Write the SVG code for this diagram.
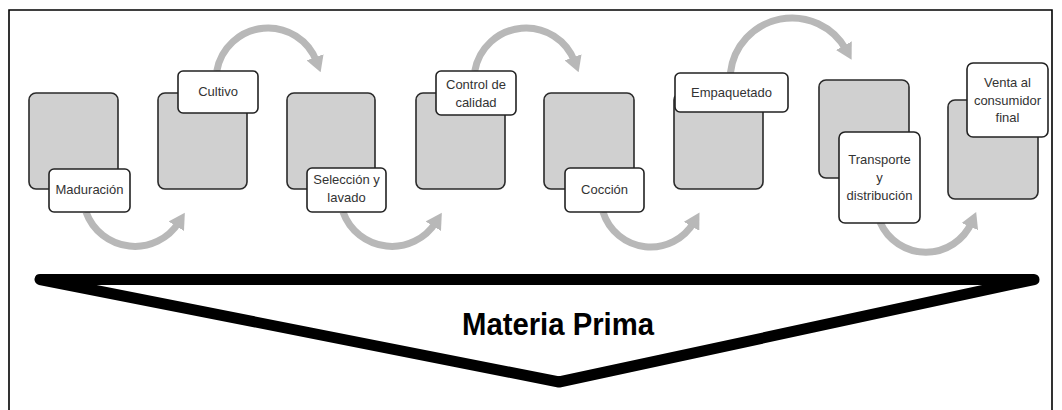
<svg xmlns="http://www.w3.org/2000/svg" width="1062" height="410" viewBox="0 0 1062 410">
<style>
.frame{fill:none;stroke:#000;stroke-width:1.6}
.step{fill:#d0d0d0;stroke:#2a2a2a;stroke-width:1.6}
.lbl{fill:#fff;stroke:#222;stroke-width:1.6}
.t{font-family:"Liberation Sans",Arial,sans-serif;font-size:13px;fill:#333;text-anchor:middle}
.arc{fill:none;stroke:#b8b8b8;stroke-width:7}
.tri{fill:none;stroke:#000;stroke-width:11;stroke-linejoin:round}
.title{font-family:"Liberation Sans",Arial,sans-serif;font-size:32px;font-weight:bold;fill:#000;text-anchor:middle}
</style>
<defs>
<marker id="ah" markerUnits="userSpaceOnUse" viewBox="0 0 16 18" markerWidth="16" markerHeight="18" refX="5" refY="9" orient="auto">
<path d="M0,0 L16,9 L0,18 z" fill="#b8b8b8"/>
</marker>
</defs>
<rect width="1062" height="410" fill="#fff"/>
<path class="frame" d="M9 420 V10 H1052 V420"/>
<g id="connectors">
<path class="arc" marker-end="url(#ah)" d="M86 212 A52 52 0 0 0 179 222"/>
<path class="arc" marker-end="url(#ah)" d="M216.8 71 A52 52 0 0 1 316.8 62"/>
<path class="arc" marker-end="url(#ah)" d="M343 212 A52 52 0 0 0 436 222"/>
<path class="arc" marker-end="url(#ah)" d="M474.8 71 A52 52 0 0 1 574.8 62"/>
<path class="arc" marker-end="url(#ah)" d="M603 212 A50 50 0 0 0 694 222"/>
<path class="arc" marker-end="url(#ah)" d="M730.4 73 A62 62 0 0 1 846.3 50"/>
<path class="arc" marker-end="url(#ah)" d="M880 222 A50 50 0 0 0 971.8 222"/>
</g>
<g id="n1">
<rect class="step" x="29" y="93" width="89" height="96" rx="7"/>
<rect class="lbl" x="49" y="169" width="81" height="43" rx="5"/>
<text class="t" x="89.5" y="194">Maduración</text>
</g>
<g id="n2">
<rect class="step" x="158" y="93" width="89" height="96" rx="7"/>
<rect class="lbl" x="178" y="71" width="80" height="42" rx="5"/>
<text class="t" x="218" y="96">Cultivo</text>
</g>
<g id="n3">
<rect class="step" x="287" y="93" width="88" height="96" rx="7"/>
<rect class="lbl" x="307" y="168" width="79" height="44" rx="5"/>
<text class="t" x="346.5" y="184">Selección y</text>
<text class="t" x="346.5" y="202">lavado</text>
</g>
<g id="n4">
<rect class="step" x="416" y="93" width="89" height="96" rx="7"/>
<rect class="lbl" x="436" y="71" width="80" height="44" rx="5"/>
<text class="t" x="476" y="89">Control de</text>
<text class="t" x="476" y="107">calidad</text>
</g>
<g id="n5">
<rect class="step" x="544" y="93" width="90" height="96" rx="7"/>
<rect class="lbl" x="565" y="168" width="79" height="44" rx="5"/>
<text class="t" x="604.5" y="194">Cocción</text>
</g>
<g id="n6">
<rect class="step" x="674" y="93" width="89" height="96" rx="7"/>
<rect class="lbl" x="675" y="73" width="113" height="39" rx="5"/>
<text class="t" x="731.5" y="97">Empaquetado</text>
</g>
<g id="n7">
<rect class="step" x="819" y="80" width="90" height="98" rx="7"/>
<rect class="lbl" x="839" y="132" width="81" height="91" rx="6"/>
<text class="t" x="879.5" y="164">Transporte</text>
<text class="t" x="879.5" y="182">y</text>
<text class="t" x="879.5" y="200">distribución</text>
</g>
<g id="n8">
<rect class="step" x="948" y="100" width="90" height="99" rx="7"/>
<rect class="lbl" x="967" y="63" width="81" height="74" rx="6"/>
<text class="t" x="1007.5" y="87">Venta al</text>
<text class="t" x="1007.5" y="105">consumidor</text>
<text class="t" x="1007.5" y="122">final</text>
</g>
<g id="materia-prima">
<polygon class="tri" points="40,279.5 1034,279.5 559,382"/>
<text class="title" x="558" y="335" textLength="192" lengthAdjust="spacingAndGlyphs">Materia Prima</text>
</g>
</svg>
